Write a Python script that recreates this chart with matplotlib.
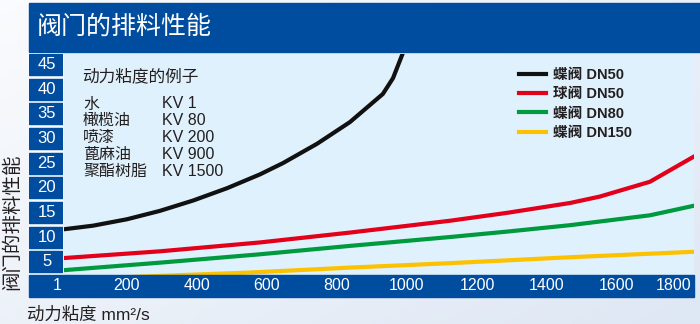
import numpy as np
import matplotlib
matplotlib.use('Agg')
import matplotlib.pyplot as plt
from matplotlib.patches import Rectangle
from matplotlib.transforms import blended_transform_factory

plt.rcParams['font.family'] = ['Liberation Sans', 'Noto Sans CJK SC']

# ---- data ----
title = '阀门的排料性能'
ylabel = '阀门的排料性能'
xlabel = '动力粘度 mm²/s'

yticks = [5, 10, 15, 20, 25, 30, 35, 40, 45]
xticks = [1, 200, 400, 600, 800, 1000, 1200, 1400, 1600, 1800]

visc_bfly50 = [23, 103, 200, 294, 389, 486, 580, 646, 743, 837, 931, 960, 986]
perf_bfly50 = [11.6, 12.3, 13.6, 15.3, 17.4, 19.9, 22.7, 25.0, 28.9, 33.3, 39.0, 42.2, 46.9]

visc_ball50 = [23, 294, 580, 837, 1123, 1286, 1466, 1551, 1694, 1817]
perf_ball50 = [5.75, 7.1, 8.9, 10.9, 13.3, 14.9, 16.9, 18.2, 21.2, 26.2]

visc_bfly80 = [23, 294, 580, 837, 1123, 1286, 1466, 1694, 1817]
perf_bfly80 = [3.3, 4.8, 6.5, 8.2, 10.0, 11.1, 12.4, 14.4, 16.3]

visc_bfly150 = [23, 286, 551, 837, 1123, 1466, 1817]
perf_bfly150 = [1.4, 2.1, 2.8, 3.8, 4.7, 5.9, 7.0]

series_labels = ['蝶阀 DN50', '球阀 DN50', '蝶阀 DN80', '蝶阀 DN150']
series_colors = ['#111111', '#e2001a', '#009a3e', '#fcc200']

example_title = '动力粘度的例子'
example_names = ['水', '橄榄油', '喷漆', '蓖麻油', '聚酯树脂']
example_kv = ['KV 1', 'KV 80', 'KV 200', 'KV 900', 'KV 1500']

blue = '#004c9f'
text_col = '#231f20'

W, H = 700, 324
fig = plt.figure(figsize=(W / 100, H / 100), dpi=100)

def fx(px):
    return px / W

def fy(py):
    return 1 - py / H

# soft background gradient
bg = fig.add_axes([0, 0, 1, 1], zorder=-10)
gx, gy = np.meshgrid(np.linspace(0, 1, 200), np.linspace(0, 1, 100))
t = np.clip(0.15 + 0.45 * gx + 0.4 * gy, 0, 1)[..., None]
c0 = np.array([1.0, 1.0, 1.0])
c1 = np.array([222, 231, 244]) / 255
bg.imshow(c0 * (1 - t) + c1 * t, aspect='auto', extent=[0, 1, 0, 1], origin='upper')
bg.axis('off')

# title bar
fig.patches.append(Rectangle((fx(29), fy(52)), fx(700) - fx(29), 49 / H,
                             transform=fig.transFigure, color=blue, zorder=0))
fig.text(fx(37), fy(27), title, color='white', fontsize=18, va='center', ha='left',
         family=['Noto Sans CJK SC'], zorder=5)

# x tick bar
fig.patches.append(Rectangle((fx(29), fy(297)), fx(694) - fx(29), 22 / H,
                             transform=fig.transFigure, color=blue, zorder=0))

# main plot area
ax = fig.add_axes([fx(64), fy(275), 630 / W, 221 / H])
ax.set_facecolor('#dff1fc')
for s in ax.spines.values():
    s.set_visible(False)
ax.set_xticks([])
ax.set_yticks([])
ax.set_xlim(20, 1820)
ax.set_ylim(2.3, 47.1)

ax.plot(visc_bfly50, perf_bfly50, color=series_colors[0], lw=3, label=series_labels[0])
ax.plot(visc_ball50, perf_ball50, color=series_colors[1], lw=3, label=series_labels[1])
ax.plot(visc_bfly80, perf_bfly80, color=series_colors[2], lw=3, label=series_labels[2])
ax.plot(visc_bfly150, perf_bfly150, color=series_colors[3], lw=3, label=series_labels[3])

leg = ax.legend(loc='upper left', bbox_to_anchor=(fx(519), fy(68)),
                bbox_transform=fig.transFigure, frameon=False,
                prop={'size': 10.5, 'weight': 'bold'}, handlelength=1.85,
                handletextpad=0.45, labelspacing=0.36, borderpad=0, borderaxespad=0)
for txt in leg.get_texts():
    txt.set_color(text_col)

# viscosity examples
def axx(px):
    return (px - 64) / 630

def axy(py):
    return (275 - py) / 221

ax.text(axx(82), axy(76), example_title, transform=ax.transAxes, fontsize=12,
        va='center', ha='left', color=text_col)
for i, (name, kv) in enumerate(zip(example_names, example_kv)):
    yy = axy(104 + i * 16.8)
    ax.text(axx(83), yy, name, transform=ax.transAxes, fontsize=11.5,
            va='center', ha='left', color=text_col)
    ax.text(axx(162), yy, kv, transform=ax.transAxes, fontsize=11.5,
            va='center', ha='left', color=text_col)

# y tick boxes
bax = fig.add_axes([fx(29), fy(275), 34 / W, 221 / H])
bax.set_facecolor('#f6f9fd')
for s in bax.spines.values():
    s.set_visible(False)
bax.set_xticks([])
bax.set_yticks([])
bax.set_xlim(0, 1)
bax.set_ylim(ax.get_ylim())
for v in yticks:
    bax.add_patch(Rectangle((0, v - 2.13), 1, 4.26, color=blue))
    bax.text(0.52, v, str(v), ha='center', va='center', color='white', fontsize=12)

# x tick labels in the bar
trans = blended_transform_factory(ax.transData, fig.transFigure)
for v in xticks:
    pos, ha = v, 'center'
    if v == xticks[-1]:
        pos, ha = ax.get_xlim()[1] - 8, 'right'
    fig.text(pos, fy(286), str(v), transform=trans, ha=ha, va='center',
             color='white', fontsize=11.5, zorder=5)

fig.text(fx(12), fy(222), ylabel, rotation=90, fontsize=14, ha='center', va='center',
         color=text_col)
fig.text(fx(27), fy(315), xlabel, fontsize=12.5, ha='left', va='center', color=text_col)

fig.savefig('out.png', dpi=100)
